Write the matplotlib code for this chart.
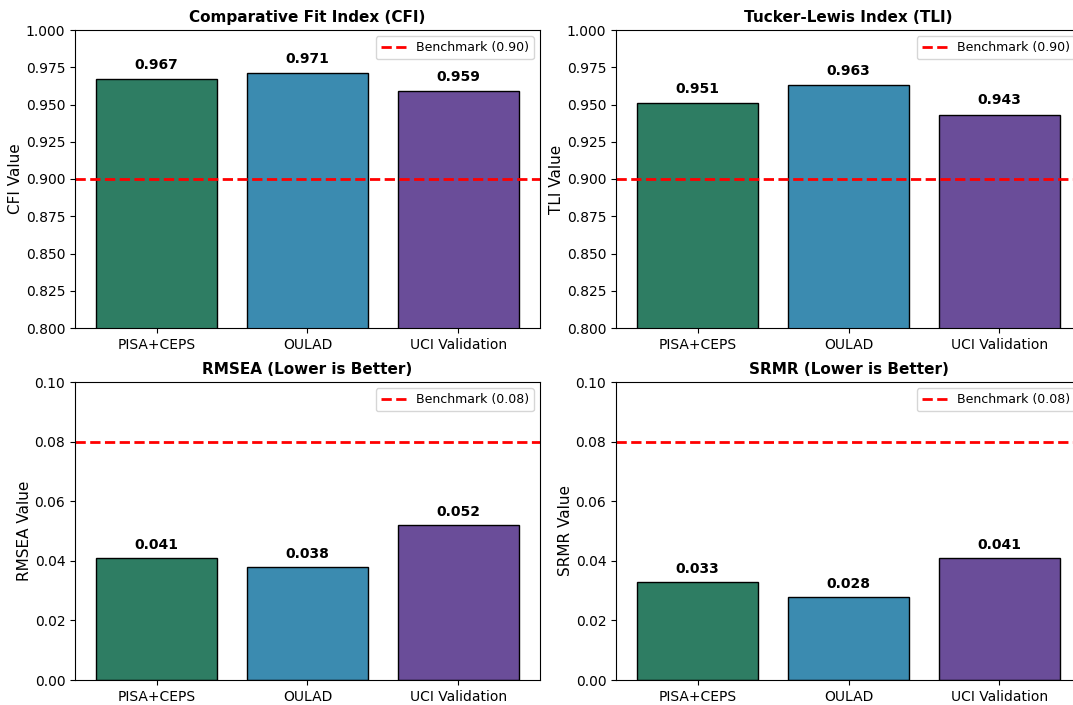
import numpy as np
import matplotlib
matplotlib.use("Agg")
import matplotlib.pyplot as plt

# datasets y colores
datasets = ['PISA+CEPS', 'OULAD', 'UCI Validation']
colors = ['#2e7d63', '#3b8bb0', '#6a4d99']

cfi = [0.967, 0.971, 0.959]
tli = [0.951, 0.963, 0.943]
rmsea = [0.041, 0.038, 0.052]
srmr = [0.033, 0.028, 0.041]

panels = [
    ('Comparative Fit Index (CFI)', 'CFI Value', cfi, 0.90, 'Benchmark (0.90)', (0.8, 1.0), 0.005, '{:.3f}'),
    ('Tucker-Lewis Index (TLI)', 'TLI Value', tli, 0.90, 'Benchmark (0.90)', (0.8, 1.0), 0.005, '{:.3f}'),
    ('RMSEA (Lower is Better)', 'RMSEA Value', rmsea, 0.08, 'Benchmark (0.08)', (0.0, 0.1), 0.002, '{:.3f}'),
    ('SRMR (Lower is Better)', 'SRMR Value', srmr, 0.08, 'Benchmark (0.08)', (0.0, 0.1), 0.002, '{:.3f}'),
]

W, H = 1073, 705
fig = plt.figure(figsize=(W / 100, H / 100), dpi=100)

# posiciones en pixeles (izq, arriba, ancho, alto); la columna derecha queda recortada
boxes = [(75, 30, 465, 298), (616, 30, 465, 298),
         (75, 382, 465, 298), (616, 382, 465, 298)]

x = np.arange(len(datasets))
for (title, ylabel, vals, bench, blabel, ylim, off, fmt), (l, t, w, h) in zip(panels, boxes):
    ax = fig.add_axes([l / W, (H - t - h) / H, w / W, h / H])
    bars = ax.bar(x, vals, width=0.8, color=colors, edgecolor='black', linewidth=1)
    ax.axhline(bench, color='red', linestyle='--', linewidth=2, label=blabel)
    for b, v in zip(bars, vals):
        ax.text(b.get_x() + b.get_width() / 2, v + off, fmt.format(v),
                ha='center', va='bottom', fontweight='bold', fontsize=10)
    ax.set_xticks(x)
    ax.set_xticklabels(datasets)
    ax.set_ylim(*ylim)
    ax.set_title(title, fontsize=11, fontweight='bold')
    ax.set_ylabel(ylabel, fontsize=11, labelpad=2)
    ax.legend(loc='upper right', fontsize=9)

fig.savefig('out.png', dpi=100)
